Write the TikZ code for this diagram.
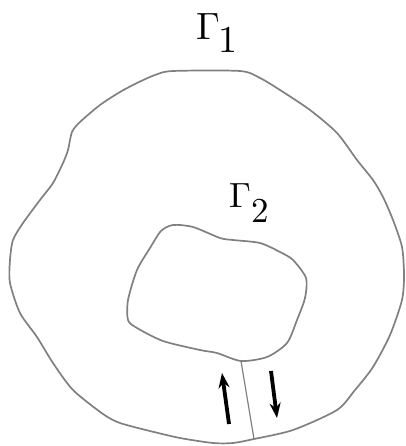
\documentclass[tikz,border=0pt]{standalone}
\usetikzlibrary{arrows.meta}
\begin{document}
\begin{tikzpicture}[x=1pt,y=-1pt,
  curve/.style={draw=black!50,line width=1.7pt,line join=round},
  flow/.style={black,line width=3.8pt,-{Stealth[length=15pt,width=11pt]}},
  lbl/.style={inner sep=0pt,anchor=base west}]
\useasboundingbox (0,0) rectangle (405,446);
% outer boundary Gamma_1
\draw[curve] plot[smooth cycle,tension=0.45] coordinates {
 (173,71) (240,71) (260,78) (280,90) (310,110) (337,133) (357,160)
 (373,180) (383,197) (393,220) (402,247) (404,275) (402,300) (390,335)
 (373,367) (355,390) (337,410) (293,430) (254,439) (233,443) (213,443)
 (180,438) (150,431) (120,423) (103,414) (73,390) (53,363) (37,337)
 (20,313) (10,283) (10,260) (13,240) (23,223) (40,200) (53,183)
 (63,163) (68,150) (72,132) (80,122) (100,105) (120,92) (137,83) (155,75)};
% inner boundary Gamma_2
\draw[curve] plot[smooth cycle,tension=0.45] coordinates {
 (173,225) (193,227) (220,238) (233,240) (260,243) (280,252) (293,260)
 (306,278) (305,298) (297,320) (287,343) (267,357) (241,361) (217,353)
 (200,350) (163,341) (137,328) (128,320) (128,300) (137,270) (150,248)
 (161,231)};
% cut
\coordinate (c1) at (241,361);
\coordinate (c2) at (254,439);
\draw[draw=black!50,line width=1.2pt] (c1) -- (c2);
% arrows
\coordinate (u1) at (229,424);
\coordinate (u2) at (222,373);
\coordinate (d1) at (271,371);
\coordinate (d2) at (277,418);
\draw[flow] (u1) -- (u2);
\draw[flow] (d1) -- (d2);
% labels
\node[lbl] (g1) at (196,40) {\scalebox{3.8}{$\Gamma$}\kern-1pt\raisebox{-13pt}{\scalebox{3.8}{1}}};
\node[lbl] (g2) at (229,207) {\scalebox{3.5}{$\Gamma$}\raisebox{-16pt}{\scalebox{3.5}{2}}};
\end{tikzpicture}
\end{document}
